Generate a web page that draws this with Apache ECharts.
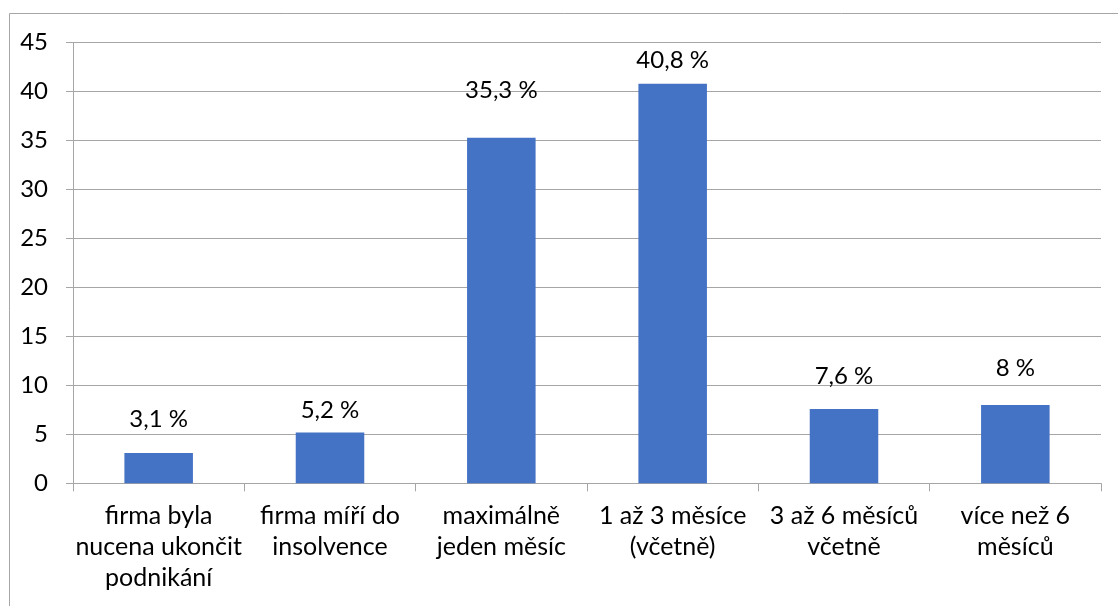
<!DOCTYPE html>
<html>
<head>
<meta charset="utf-8">
<script src="https://cdn.jsdelivr.net/npm/echarts@6/dist/echarts.min.js"></script>
<style>
  html, body { margin: 0; padding: 0; background: #fff; }
  #chart { width: 1118px; height: 606px; }
</style>
</head>
<body>
<div id="chart"></div>
<script>
// Categories (line breaks as laid out under each bar)
const categories = [
  'firma byla\nnucena ukončit\npodnikání',
  'firma míří do\ninsolvence',
  'maximálně\njeden měsíc',
  '1 až 3 měsíce\n(včetně)',
  '3 až 6 měsíců\nvčetně',
  'více než 6\nměsíců'
];
// Share of respondents, in percent
const shares = [3.1, 5.2, 35.3, 40.8, 7.6, 8];
// Y axis range and step
const yMin = 0, yMax = 45, yStep = 5;
// Extra lift of each value label above its bar (px)
const labelLift = [22, 10, 35, 12, 21, 25];

const FONT = 'Lato';
const chart = echarts.init(document.getElementById('chart'), null, { renderer: 'canvas' });

const fmt = v => String(v).replace('.', ',') + ' %';

chart.setOption({
  animation: false,
  backgroundColor: '#ffffff',
  textStyle: { fontFamily: FONT },
  graphic: [{
    type: 'rect',
    shape: { x: 9.5, y: 13.5, width: 1200, height: 700 },
    style: { fill: 'none', stroke: '#a6a6a6', lineWidth: 1 },
    silent: true
  }],
  grid: { left: 73, right: 17, top: 42.7, bottom: 122.7, containLabel: false },
  xAxis: {
    type: 'category',
    data: categories,
    axisLine: { lineStyle: { color: '#a6a6a6', width: 1 } },
    axisTick: { show: true, length: 8, alignWithLabel: false, lineStyle: { color: '#a6a6a6' } },
    axisLabel: {
      interval: 0, margin: 17, color: '#000', fontFamily: FONT, fontSize: 25,
      lineHeight: 31, align: 'center'
    },
    splitLine: { show: false }
  },
  yAxis: {
    type: 'value',
    min: yMin, max: yMax, interval: yStep,
    axisLine: { show: true, lineStyle: { color: '#a6a6a6', width: 1 } },
    axisTick: { show: true, length: 7, lineStyle: { color: '#a6a6a6' } },
    axisLabel: { margin: 25, color: '#000', fontFamily: FONT, fontSize: 24, padding: [8, 0, 0, 0] },
    splitLine: { show: true, lineStyle: { color: '#a6a6a6', width: 1 } }
  },
  series: [{
    type: 'bar',
    barWidth: '40%',
    itemStyle: { color: '#4472C4' },
    data: shares.map((v, i) => ({
      value: v,
      label: { distance: labelLift[i] }
    })),
    label: {
      show: true, position: 'top', color: '#000', fontFamily: FONT, fontSize: 24,
      formatter: p => fmt(p.value)
    }
  }]
});
</script>
</body>
</html>
